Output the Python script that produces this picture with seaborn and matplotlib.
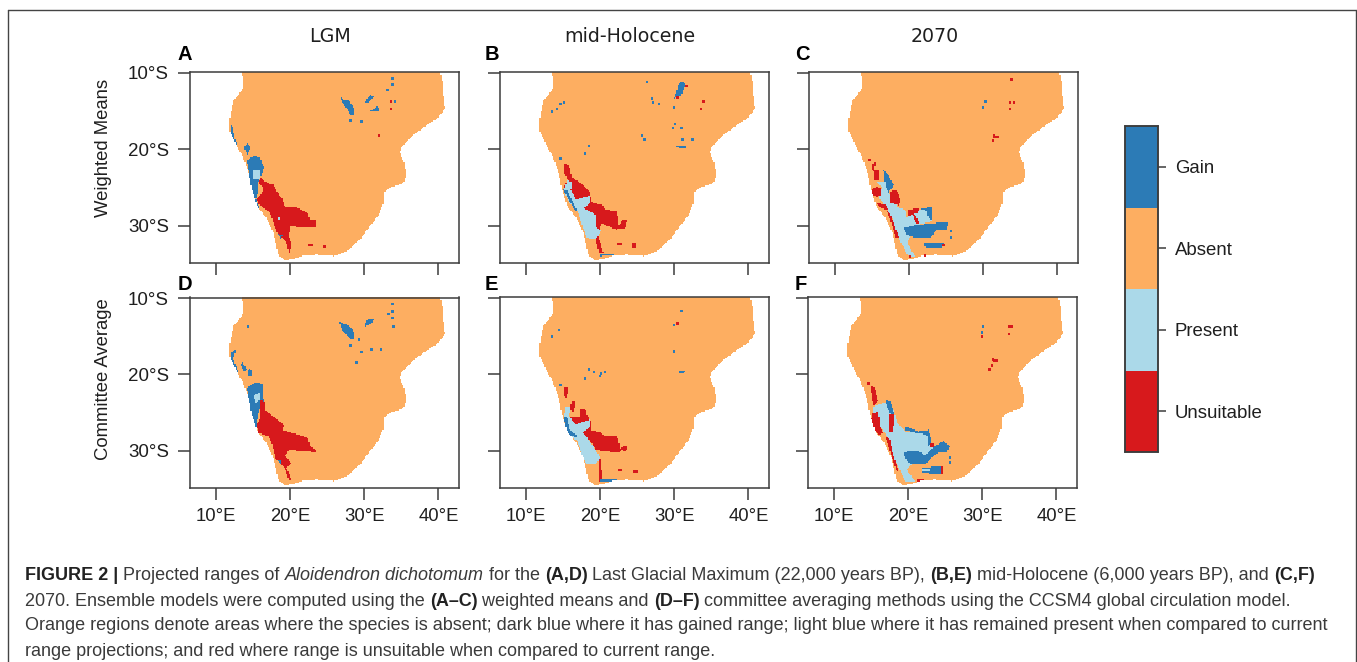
import numpy as np
import matplotlib
matplotlib.use("Agg")
import matplotlib.pyplot as plt
from matplotlib.colors import ListedColormap
from matplotlib.path import Path
from matplotlib.lines import Line2D
import seaborn as sns

CLASS_NAMES = ["Unsuitable", "Present", "Absent", "Gain"]
CLASS_COLORS = ["#d7191c", "#abd9e9", "#fdae61", "#2c7bb6"]
U, P, G = 0, 1, 3
ABSENT = 2

LON_TICKS = [10, 20, 30, 40]
LAT_TICKS = [-10, -20, -30]
LON_LABELS = ["10°E", "20°E", "30°E", "40°E"]
LAT_LABELS = ["10°S", "20°S", "30°S"]
COLUMN_TITLES = ["LGM", "mid-Holocene", "2070"]
ROW_TITLES = ["Weighted Means", "Committee Average"]
LON_MIN, LON_MAX = 6.45, 42.85
LAT_TOP, LAT_BOTTOM = -9.9, -34.85
CELL_DEG = 1 / 6

COAST = [(13.4,-9.5),(13.6,-10.9),(13.6,-12.0),(13.0,-12.9),(12.3,-13.7),(12.1,-14.8),(11.7,-16.6),
         (11.9,-17.9),(12.6,-19.2),(13.5,-20.9),(14.4,-23.1),(14.8,-25.2),(15.5,-27.4),(16.8,-29.1),
         (17.7,-30.9),(18.1,-32.6),(18.4,-33.9),(19.3,-34.6),(20.7,-34.3),(21.8,-33.9),(23.6,-33.8),
         (25.9,-34.0),(27.7,-33.3),(29.5,-31.7),(30.8,-30.0),(31.9,-28.7),(32.6,-27.0),(32.6,-25.7),
         (33.5,-25.0),(35.3,-24.4),(35.6,-23.5),(35.5,-22.0),(34.8,-20.5),(35.1,-19.6),(36.7,-18.1),
         (38.5,-16.8),(40.0,-15.9),(40.9,-14.7),(40.6,-12.2),(40.5,-10.5),(40.0,-9.5)]

# Panel A (LGM, weighted means)
A_AREAS = [
 (G, [(14.1,-21.5),(15.0,-20.9),(15.9,-21.1),(16.4,-22.4),(16.0,-23.7),(15.6,-24.4),(15.6,-25.7),(15.3,-26.5),(15.9,-27.8),(15.3,-27.6),(14.8,-26.1),(14.6,-24.4),(14.4,-22.8)]),
 (G, [(13.7,-19.8),(14.2,-19.2),(14.7,-19.8),(14.2,-20.7)]),
 (G, [(11.9,-16.9),(12.3,-17.1),(12.4,-18.3),(12.8,-19.4),(12.6,-19.4),(12.0,-18.1)]),
 (P, [(15.0,-22.8),(15.9,-22.8),(15.9,-23.9),(15.0,-23.9)]),
 (G, [(26.7,-13.1),(27.2,-13.5),(27.9,-13.6),(28.6,-14.6),(28.6,-15.5),(28.1,-15.5),(27.6,-14.6),(27.0,-13.9)]),
 (G, [(30.0,-13.9),(30.8,-12.9),(31.3,-13.1),(30.6,-13.9)]),
 (G, [(30.8,-15.0),(31.8,-14.4),(32.0,-15.0)]),
 (U, [(16.0,-23.7),(16.8,-24.4),(17.7,-24.6),(18.1,-25.4),(18.9,-26.5),(19.3,-27.6),(20.9,-27.6),(22.3,-28.3),(22.7,-29.3),(23.5,-29.2),(23.4,-30.2),(22.3,-30.2),(21.1,-30.2),(20.0,-30.0),(19.8,-31.3),(20.1,-32.2),(20.0,-33.5),(19.8,-33.5),(19.5,-32.2),(18.2,-30.9),(17.7,-29.6),(17.3,-28.3),(15.7,-27.2),(15.4,-26.5),(15.9,-26.1),(16.4,-25.2),(15.7,-24.4)]),
 (G, [(18.3,-31.1),(18.9,-31.3),(18.7,-31.7)]),
]
A_GAIN_SPOTS = [(28.0,-16.1),(29.6,-16.4),(33.7,-10.7),(33.7,-11.4),(33.1,-12.2),(34.0,-13.7)]
A_LOSS_SPOTS = [(33.6,-14.6),(31.9,-18.2),(33.6,-13.6),(22.6,-32.4),(22.8,-32.4),(24.5,-32.6)]
A_KEPT_SPOTS = [(18.4,-28.9)]

# Panel B (mid-Holocene, weighted means)
B_AREAS = [
 (U, [(15.1,-21.8),(15.8,-22.1),(16.1,-23.6),(17.3,-24.4),(18.5,-25.5),(18.9,-27.0),(20.3,-27.3),(20.6,-27.9),(22.3,-28.1),(22.5,-29.9),(23.0,-29.3),(23.6,-29.3),(23.4,-30.3),(22.1,-30.5),(20.1,-29.7),(19.7,-31.4),(20.1,-32.5),(20.4,-33.6),(19.8,-33.6),(19.4,-31.8),(17.3,-28.4),(16.0,-26.2),(15.1,-24.9),(15.6,-24.0),(15.1,-23.1)]),
 (P, [(15.5,-24.0),(16.2,-24.4),(16.0,-25.3),(16.7,-26.6),(18.7,-26.0),(18.7,-27.0),(17.8,-27.7),(19.4,-28.6),(19.4,-30.1),(20.1,-30.7),(19.4,-31.8),(18.2,-31.6),(17.6,-30.1),(16.9,-28.1),(15.8,-27.0),(15.1,-25.5)]),
 (G, [(15.0,-25.3),(15.5,-25.4),(16.9,-28.1),(16.6,-28.1)]),
 (G, [(20.0,-33.8),(21.8,-33.7),(21.8,-33.9),(20.0,-34.0)]),
 (G, [(30.0,-13.4),(30.6,-11.4),(31.1,-11.2),(31.5,-11.6),(30.9,-13.0)]),
 (G, [(30.3,-19.6),(31.5,-19.5),(31.6,-19.9),(30.4,-19.8)]),
 (U, [(22.2,-32.3),(23.0,-32.3),(23.0,-32.6),(22.2,-32.6)]),
 (U, [(24.2,-32.3),(24.8,-32.3),(24.8,-32.9),(24.2,-32.9)]),
]
B_GAIN_SPOTS = [(26.2,-11.1),(26.8,-13.3),(27.0,-13.8),(27.8,-13.9),(29.8,-14.4),(14.6,-13.9),(15.1,-13.8),(14.0,-14.7),(13.4,-15.0),(29.7,-17.1),(30.0,-16.6),(30.9,-17.1),(25.6,-18.2),(25.8,-18.6),(18.3,-19.5),(17.9,-20.5),(14.5,-21.1),(31.1,-18.7),(32.3,-18.7)]
B_LOSS_SPOTS = [(33.8,-13.7),(33.6,-14.6),(31.5,-11.6),(30.4,-13.2)]
B_KEPT_SPOTS = []

# Panel C (2070, weighted means)
C_AREAS = [
 (U, [(15.2,-22.8),(15.9,-22.8),(16.0,-24.0),(15.2,-24.0)]),
 (U, [(15.0,-21.9),(15.4,-21.8),(15.3,-22.9),(14.9,-22.7)]),
 (P, [(15.4,-24.2),(17.0,-24.2),(17.2,-25.7),(17.9,-26.6),(18.3,-27.5),(19.7,-28.1),(19.5,-29.0),(21.3,-27.9),(23.1,-27.9),(23.1,-29.4),(21.9,-29.7),(19.2,-30.3),(20.1,-31.4),(19.7,-32.3),(20.8,-34.0),(19.9,-34.0),(18.6,-31.8),(17.7,-29.0),(16.8,-27.5),(15.9,-26.4),(16.3,-24.9)]),
 (U, [(15.5,-24.9),(16.1,-25.1),(16.2,-26.0),(15.6,-26.2),(15.0,-26.0),(15.0,-25.3)]),
 (U, [(17.4,-25.5),(18.3,-25.4),(18.8,-26.6),(18.6,-27.4),(17.5,-27.0)]),
 (U, [(15.5,-27.0),(16.8,-27.3),(17.1,-27.9),(16.1,-27.7)]),
 (U, [(17.0,-28.1),(17.4,-28.4),(18.6,-31.6),(18.2,-31.6),(17.7,-30.1)]),
 (U, [(19.7,-27.9),(21.3,-27.7),(21.1,-28.3),(19.9,-28.8)]),
 (U, [(20.5,-28.6),(20.8,-28.6),(21.3,-29.7),(20.9,-29.7)]),
 (G, [(19.2,-30.3),(21.0,-29.9),(23.1,-29.7),(24.0,-29.6),(25.3,-29.6),(25.1,-30.5),(23.7,-30.6),(22.8,-31.6),(20.8,-31.6),(19.7,-31.2)]),
 (G, [(21.3,-27.7),(22.2,-27.7),(23.1,-27.5),(23.2,-29.4),(22.6,-29.0),(22.4,-28.1)]),
 (G, [(21.9,-32.3),(24.6,-32.2),(24.5,-32.9),(21.9,-32.8)]),
 (G, [(16.5,-22.7),(17.2,-23.4),(17.9,-24.7),(17.2,-25.7),(16.8,-24.9)]),
 (U, [(31.2,-18.1),(32.2,-18.2),(32.2,-18.5),(31.2,-18.6)]),
]
C_GAIN_SPOTS = [(25.5,-30.7),(25.5,-31.4),(30.2,-13.6),(29.8,-14.4)]
C_LOSS_SPOTS = [(33.7,-10.8),(33.6,-13.8),(34.0,-13.8),(33.6,-14.6),(31.2,-18.9),(14.6,-21.3),(22.1,-33.8),(20.0,-34.0),(24.5,-32.5)]
C_KEPT_SPOTS = []

# Panel D (LGM, committee average)
D_AREAS = [
 (G, [(14.1,-21.8),(15.3,-21.0),(16.2,-21.2),(16.4,-23.6),(15.9,-24.4),(15.6,-25.5),(15.3,-27.3),(15.9,-28.1),(15.3,-27.9),(14.7,-25.1),(14.5,-23.6)]),
 (P, [(15.1,-22.7),(15.9,-22.3),(15.9,-23.3),(15.3,-23.8)]),
 (G, [(11.9,-17.2),(12.7,-16.7),(12.3,-17.9),(13.0,-19.7),(12.8,-19.8),(11.9,-18.1)]),
 (G, [(13.5,-18.3),(14.1,-19.4),(13.8,-19.7),(13.3,-18.7)]),
 (G, [(14.4,-19.2),(14.7,-19.4),(14.8,-20.3),(14.2,-20.3)]),
 (G, [(26.6,-13.1),(27.9,-13.6),(28.6,-14.4),(28.6,-15.5),(28.1,-15.3),(27.0,-14.2)]),
 (G, [(30.0,-13.8),(30.4,-12.8),(31.3,-12.7),(31.0,-13.3)]),
 (U, [(16.0,-23.4),(16.6,-23.6),(16.6,-24.7),(17.7,-25.5),(19.1,-26.6),(18.9,-27.3),(21.1,-27.9),(22.3,-28.3),(22.7,-29.4),(23.5,-29.9),(23.4,-30.2),(22.1,-30.1),(19.8,-29.9),(19.3,-30.7),(20.1,-31.6),(19.5,-32.3),(20.2,-33.9),(19.8,-33.9),(19.3,-32.3),(18.0,-31.0),(17.5,-29.0),(17.1,-28.1),(15.7,-27.7),(15.4,-26.6),(16.0,-25.7),(15.9,-24.4)]),
 (G, [(18.3,-31.3),(18.9,-31.2),(18.7,-31.7)]),
]
D_GAIN_SPOTS = [(14.2,-13.7),(28.0,-16.1),(29.5,-17.0),(30.8,-16.6),(32.2,-16.6),(28.8,-18.4),(33.7,-10.7),(33.7,-11.7),(33.2,-12.0),(33.7,-12.5),(33.9,-13.6),(29.2,-15.3)]
D_LOSS_SPOTS = []
D_KEPT_SPOTS = []

# Panel E (mid-Holocene, committee average)
E_AREAS = [
 (U, [(17.3,-24.6),(18.0,-24.6),(18.2,-25.4),(18.8,-26.2),(18.7,-27.3),(20.3,-27.7),(20.4,-28.1),(22.3,-28.1),(22.7,-29.7),(23.6,-29.3),(23.5,-30.2),(23.0,-29.9),(22.3,-30.3),(19.4,-29.9),(18.5,-28.6),(16.4,-27.3),(15.8,-25.5),(17.3,-25.5)]),
 (U, [(15.1,-21.7),(15.6,-21.7),(15.5,-23.1),(15.1,-22.9)]),
 (U, [(16.1,-23.6),(16.7,-23.6),(16.4,-24.9),(15.9,-24.7)]),
 (U, [(19.8,-31.0),(20.1,-31.0),(20.3,-34.0),(19.8,-34.0)]),
 (P, [(15.3,-24.2),(16.0,-24.2),(15.8,-25.5),(16.7,-26.6),(18.6,-25.9),(18.7,-26.8),(17.6,-27.7),(18.2,-28.3),(19.4,-30.0),(20.0,-30.9),(19.4,-31.8),(18.2,-31.8),(17.6,-30.7),(16.9,-28.8),(15.6,-27.7),(15.1,-25.9)]),
 (G, [(15.1,-25.5),(15.5,-25.5),(15.8,-27.2),(16.9,-28.1),(16.7,-28.3),(15.4,-27.7)]),
 (G, [(20.0,-33.8),(22.3,-33.7),(22.3,-34.0),(20.0,-34.1)]),
 (G, [(30.6,-19.5),(31.5,-19.5),(31.5,-19.8),(30.6,-19.9)]),
]
E_GAIN_SPOTS = [(30.9,-11.7),(29.9,-13.4),(29.8,-17.0),(14.4,-14.1),(13.4,-15.0),(18.3,-19.3),(19.1,-19.6),(19.8,-20.2),(20.6,-19.7),(20.0,-19.9),(14.6,-21.3),(17.9,-20.5)]
E_LOSS_SPOTS = [(30.4,-13.3),(22.5,-32.5),(22.7,-32.5),(24.5,-32.6),(24.8,-32.6)]
E_KEPT_SPOTS = []

# Panel F (2070, committee average)
F_AREAS = [
 (P, [(15.3,-24.2),(17.1,-23.6),(18.0,-24.7),(18.5,-26.4),(19.6,-27.5),(22.5,-27.7),(23.0,-29.4),(23.8,-29.9),(21.8,-31.6),(20.5,-31.8),(19.8,-32.5),(20.9,-34.0),(19.6,-34.0),(18.7,-32.3),(17.8,-30.3),(16.9,-27.7),(15.3,-26.0)]),
 (G, [(19.4,-30.4),(19.8,-30.1),(21.4,-30.1),(22.3,-30.7),(23.6,-29.4),(24.7,-28.8),(25.6,-29.4),(25.2,-30.2),(23.9,-30.3),(22.3,-31.8),(20.5,-31.8),(19.8,-31.4)]),
 (G, [(19.6,-26.8),(21.4,-27.5),(22.7,-27.3),(23.2,-28.8),(22.7,-29.4),(22.5,-27.9),(21.2,-27.7),(19.6,-27.3)]),
 (G, [(16.9,-23.3),(17.6,-23.6),(18.2,-25.5),(17.8,-25.5),(17.1,-24.2)]),
 (G, [(21.7,-32.3),(24.5,-32.0),(24.5,-33.0),(22.9,-33.0),(21.7,-32.9)]),
 (P, [(21.8,-32.4),(23.0,-32.4),(23.0,-32.8),(21.8,-32.8)]),
 (U, [(14.9,-21.4),(15.5,-21.9),(15.9,-23.6),(15.3,-24.2),(15.1,-22.9)]),
 (U, [(15.1,-25.1),(16.0,-24.9),(16.1,-26.8),(16.6,-27.7),(16.0,-27.9),(15.3,-27.3),(15.0,-26.0)]),
 (U, [(17.5,-25.3),(18.1,-25.2),(18.0,-27.5),(17.5,-27.6)]),
 (U, [(16.9,-28.1),(17.6,-28.6),(17.8,-30.1),(18.7,-32.7),(18.4,-32.7),(17.3,-29.4)]),
 (U, [(21.1,-33.8),(22.1,-33.7),(22.1,-33.9),(21.2,-34.1)]),
 (U, [(24.4,-32.1),(24.7,-32.1),(24.7,-33.0),(24.4,-33.0)]),
 (U, [(31.2,-17.9),(32.2,-18.1),(32.1,-18.5),(31.3,-18.3)]),
 (U, [(22.9,-29.1),(23.4,-29.1),(23.4,-29.6),(22.9,-29.6)]),
]
F_GAIN_SPOTS = [(30.1,-13.6),(29.8,-14.4),(25.5,-30.8),(25.5,-31.4)]
F_LOSS_SPOTS = [(33.6,-13.7),(33.9,-13.7),(33.6,-14.6),(29.9,-14.9),(31.2,-18.9),(30.8,-19.4),(14.6,-21.2)]
F_KEPT_SPOTS = []

PANEL_LETTERS = ["A", "B", "C", "D", "E", "F"]
AREAS = [A_AREAS, B_AREAS, C_AREAS, D_AREAS, E_AREAS, F_AREAS]
GAIN_SPOTS = [A_GAIN_SPOTS, B_GAIN_SPOTS, C_GAIN_SPOTS, D_GAIN_SPOTS, E_GAIN_SPOTS, F_GAIN_SPOTS]
LOSS_SPOTS = [A_LOSS_SPOTS, B_LOSS_SPOTS, C_LOSS_SPOTS, D_LOSS_SPOTS, E_LOSS_SPOTS, F_LOSS_SPOTS]
KEPT_SPOTS = [A_KEPT_SPOTS, B_KEPT_SPOTS, C_KEPT_SPOTS, D_KEPT_SPOTS, E_KEPT_SPOTS, F_KEPT_SPOTS]

CAPTION = [
 [("FIGURE 2 | ", "b"), ("Projected ranges of ", "n"), ("Aloidendron dichotomum", "i"), (" for the ", "n"), ("(A,D)", "b"),
  (" Last Glacial Maximum (22,000 years BP), ", "n"), ("(B,E)", "b"), (" mid-Holocene (6,000 years BP), and ", "n"), ("(C,F)", "b")],
 [("2070. Ensemble models were computed using the ", "n"), ("(A–C)", "b"), (" weighted means and ", "n"), ("(D–F)", "b"),
  (" committee averaging methods using the CCSM4 global circulation model.", "n")],
 [("Orange regions denote areas where the species is absent; dark blue where it has gained range; light blue where it has remained present when compared to current", "n")],
 [("range projections; and red where range is unsuitable when compared to current range.", "n")],
]

W, H = 1357, 662
sns.set_style("ticks")
plt.rcParams["font.family"] = ["Liberation Sans", "DejaVu Sans"]
fig = plt.figure(figsize=(W / 100, H / 100), dpi=100, facecolor="white")
INK = "#1f1f1f"
EDGE = "#3c3c3c"


def px_axes(left, top, right, bottom):
    return fig.add_axes([left / W, 1 - bottom / H, (right - left) / W, (bottom - top) / H])


def build_grid(areas, gain, loss, kept):
    nx = int(round((LON_MAX - LON_MIN) / CELL_DEG))
    ny = int(round((LAT_TOP - LAT_BOTTOM) / CELL_DEG))
    lon = LON_MIN + (np.arange(nx) + 0.5) * CELL_DEG
    lat = LAT_TOP - (np.arange(ny) + 0.5) * CELL_DEG
    xx, yy = np.meshgrid(lon, lat)
    pts = np.column_stack([xx.ravel(), yy.ravel()])
    land = Path(COAST).contains_points(pts).reshape(xx.shape)
    grid = np.full(xx.shape, np.nan)
    grid[land] = ABSENT
    for code, poly in areas:
        hit = Path(poly).contains_points(pts).reshape(xx.shape)
        grid[hit & land] = code
    for code, spots in ((G, gain), (U, loss), (P, kept)):
        for x, y in spots:
            i = int((LAT_TOP - y) / CELL_DEG)
            j = int((x - LON_MIN) / CELL_DEG)
            grid[i:i + 2, j:j + 2] = code
    return grid


AXES_PX = [(190, 72, 459, 263), (500, 72, 769, 263), (809, 72, 1078, 263),
           (190, 297.5, 459, 488), (500, 297, 769, 488), (808, 297, 1077, 488)]
LETTER_PX = [(178, 54), (485, 54), (795, 54), (178, 284), (485, 284), (795, 284)]
cmap = ListedColormap(CLASS_COLORS)
cbar_ax = px_axes(1125, 126, 1158, 452)

for k, letter in enumerate(PANEL_LETTERS):
    ax = px_axes(*AXES_PX[k])
    grid = build_grid(AREAS[k], GAIN_SPOTS[k], LOSS_SPOTS[k], KEPT_SPOTS[k])
    first = k == 0
    sns.heatmap(grid, ax=ax, cmap=cmap, vmin=-0.5, vmax=3.5, cbar=first,
                cbar_ax=cbar_ax if first else None,
                cbar_kws={"ticks": [0, 1, 2, 3]} if first else None,
                xticklabels=False, yticklabels=False)
    ax.set_facecolor("white")
    ax.set_xticks([(v - LON_MIN) / CELL_DEG for v in LON_TICKS])
    ax.set_yticks([(LAT_TOP - v) / CELL_DEG for v in LAT_TICKS])
    ax.set_xticklabels(LON_LABELS if k >= 3 else [""] * 4, fontsize=13.3, color=INK)
    ax.set_yticklabels(LAT_LABELS if k % 3 == 0 else [""] * 3, fontsize=13.5, color=INK, rotation=0)
    ax.tick_params(axis="x", length=8.6, width=1.1, color=EDGE, pad=6, rotation=0)
    ax.tick_params(axis="y", length=8.6, width=1.1, color=EDGE, pad=6.5)
    for s in ax.spines.values():
        s.set_visible(True)
        s.set_color(EDGE)
        s.set_linewidth(1.1)
    fig.text(LETTER_PX[k][0] / W, 1 - LETTER_PX[k][1] / H, letter, fontsize=14.5,
             fontweight="bold", color="black", ha="left", va="center")

cbar_ax.set_yticklabels(CLASS_NAMES, fontsize=13.4, color=INK)
cbar_ax.tick_params(axis="y", length=6, width=1.1, color=EDGE, pad=6, right=True, left=False,
                    labelright=True, labelleft=False)
for s in cbar_ax.spines.values():
    s.set_visible(True)
    s.set_color(EDGE)
    s.set_linewidth(1.1)

for x, name in zip((330, 630, 935), COLUMN_TITLES):
    fig.text(x / W, 1 - 37 / H, name, family="DejaVu Sans", fontsize=13.7, color=INK, ha="center", va="center")
for y, name in zip((148, 379), ROW_TITLES):
    fig.text(104 / W, 1 - y / H, name, fontsize=13.3, color=INK, rotation=90, ha="center", va="center")

# Figure frame (no bottom edge)
for xs, ys in (((8, 8), (662, 10)), ((8, 1355.5), (10, 10)), ((1355.5, 1355.5), (10, 662))):
    fig.add_artist(Line2D([x / W for x in xs], [1 - y / H for y in ys], color="#444444", lw=1.0))

# Caption
renderer = fig.canvas.get_renderer()
STYLES = {"n": dict(color="#3a3a3a"), "b": dict(color="#222222", fontweight="bold"),
          "i": dict(color="#3a3a3a", fontstyle="italic")}
CAP_SIZE = 13.0


def measure(text, style):
    t = fig.text(0, 0, text + "|", fontsize=CAP_SIZE, **STYLES[style])
    b = fig.text(0, 0, "|", fontsize=CAP_SIZE, **STYLES[style])
    w = t.get_window_extent(renderer).width - b.get_window_extent(renderer).width
    t.remove()
    b.remove()
    return w


for y, line in zip((573, 599, 624, 650), CAPTION):
    x = 25
    for text, style in line:
        fig.text(x / W, 1 - y / H, text, fontsize=CAP_SIZE, ha="left", va="center_baseline", **STYLES[style])
        x += measure(text, style)

fig.savefig("out.png", dpi=100, facecolor="white")
